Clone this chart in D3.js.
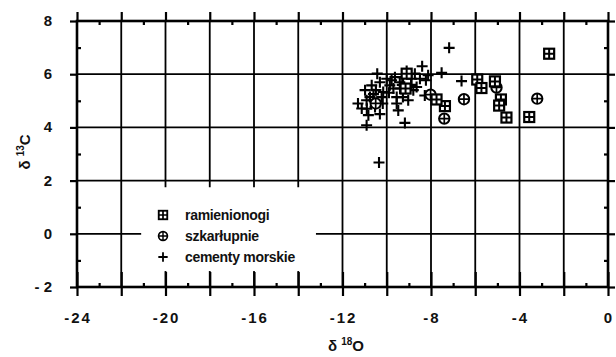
<!DOCTYPE html>
<html>
<head>
<meta charset="utf-8">
<script src="https://cdn.jsdelivr.net/npm/d3@7"></script>
<style>
  body { margin: 0; background: #fff; }
  text { font-family: "Liberation Sans", Arial, sans-serif; fill: #111; }
</style>
</head>
<body>
<div id="chart"></div>
<script>
// data (delta 18O, delta 13C)
const ramienionogiX = [-2.66, -5.91, -5.72, -5.11, -4.84, -4.92, -4.59, -3.56, -7.37, -7.75, -9.10, -9.15];
const ramienionogiY = [6.77, 5.80, 5.48, 5.73, 5.05, 4.82, 4.37, 4.39, 4.80, 5.05, 6.02, 5.46];

const szkarlupnieX = [-3.20, -6.51, -7.40, -8.02, -5.04, -10.50];
const szkarlupnieY = [5.08, 5.06, 4.33, 5.23, 5.50, 4.90];

const cementyX = [-7.18, -8.40, -7.52, -6.62, -8.13, -8.28, -9.18, -10.35, -10.91, -11.13,
  -10.83, -10.31, -9.48, -9.55, -9.03, -10.98, -10.68, -10.43, -10.31, -10.49,
  -10.76, -10.60, -10.23, -10.18, -10.91, -10.00, -9.78, -9.86, -9.63, -9.41,
  -9.26, -9.10, -8.88, -8.73, -8.65, -8.80, -9.40, -9.70, -8.50, -8.23,
  -9.55, -9.27, -10.16, -10.53, -9.90, -9.30, -8.90, -10.60, -11.30, -10.90];
const cementyY = [6.99, 6.30, 6.05, 5.74, 5.96, 5.20, 4.17, 2.68, 4.08, 4.71,
  4.46, 4.50, 4.64, 4.90, 5.02, 5.40, 5.58, 6.02, 5.70, 5.40,
  5.14, 5.02, 5.14, 4.90, 5.02, 5.83, 5.77, 5.58, 5.89, 5.70,
  5.89, 6.12, 5.83, 6.02, 5.52, 5.40, 5.46, 5.46, 5.83, 5.77,
  5.14, 5.14, 5.33, 4.77, 5.30, 5.60, 5.60, 5.25, 4.90, 4.70];

const xMajor = [-24, -20, -16, -12, -8, -4, 0];
const xGrid = d3.range(-24, 1, 2);
const yGrid = [-2, 0, 2, 4, 6, 8];
const legendLabels = ["ramienionogi", "szkarłupnie", "cementy morskie"];

const margin = { top: 21, right: 8, bottom: 70, left: 77 };
const width = 616 - margin.left - margin.right;
const height = 357 - margin.top - margin.bottom;

const svg = d3.select("#chart").append("svg")
    .attr("width", 616)
    .attr("height", 357);

const g = svg.append("g")
    .attr("transform", `translate(${margin.left},${margin.top})`);

const x = d3.scaleLinear().domain([-24, 0]).range([0, width]);
const y = d3.scaleLinear().domain([-2, 8]).range([height, 0]);

// grid
g.selectAll(".vgrid").data(xGrid).enter().append("line")
    .attr("x1", d => x(d)).attr("x2", d => x(d))
    .attr("y1", 0).attr("y2", height)
    .attr("stroke", "#000").attr("stroke-width", 1.8);
g.selectAll(".hgrid").data(yGrid).enter().append("line")
    .attr("x1", 0).attr("x2", width)
    .attr("y1", d => y(d)).attr("y2", d => y(d))
    .attr("stroke", "#000").attr("stroke-width", 1.8);

// blank area behind the legend
g.append("rect")
    .attr("x", x(-21.1)).attr("y", y(1.75))
    .attr("width", x(-13.2) - x(-21.1))
    .attr("height", y(-1.4) - y(1.75))
    .attr("fill", "#fff");

// frame
g.append("rect")
    .attr("width", width).attr("height", height)
    .attr("fill", "none").attr("stroke", "#000").attr("stroke-width", 2.6);

// axes
const xBottom = d3.axisBottom(x).tickValues(xGrid).tickSize(9).tickFormat("");
const xBottomIn = d3.axisTop(x).tickValues(xGrid).tickSize(15).tickFormat("");
const xMinorB = d3.axisTop(x).tickValues(d3.range(-23, 0, 2)).tickSize(4).tickFormat("");
const xTop = d3.axisTop(x).tickValues(xGrid).tickSize(9).tickFormat("");
const xMinorT = d3.axisBottom(x).tickValues(d3.range(-23, 0, 2)).tickSize(4).tickFormat("");
const yLeft = d3.axisLeft(y).tickValues(yGrid).tickSize(7).tickFormat("");
const yMinorL = d3.axisRight(y).tickValues(d3.range(-1, 8, 2)).tickSize(4).tickFormat("");
const yRight = d3.axisRight(y).tickValues(yGrid).tickSize(7).tickFormat("");
const yMinorR = d3.axisLeft(y).tickValues(d3.range(-1, 8, 2)).tickSize(4).tickFormat("");

const axes = [
  [xBottom, `translate(0,${height})`],
  [xBottomIn, `translate(0,${height})`],
  [xMinorB, `translate(0,${height})`],
  [xTop, "translate(0,0)"],
  [xMinorT, "translate(0,0)"],
  [yLeft, "translate(0,0)"],
  [yMinorL, "translate(0,0)"],
  [yRight, `translate(${width},0)`],
  [yMinorR, `translate(${width},0)`]
];
axes.forEach(([ax, tr]) => {
  const a = g.append("g").attr("transform", tr).call(ax);
  a.select(".domain").remove();
  a.selectAll("line").attr("stroke", "#000").attr("stroke-width", 2.2);
});

// tick labels
g.selectAll(".xlab").data(xMajor).enter().append("text")
    .attr("x", d => x(d) + 1)
    .attr("y", height + 36)
    .attr("text-anchor", "middle")
    .style("font-size", "15px").style("font-weight", "bold")
    .style("letter-spacing", "2px")
    .text(d => d < 0 ? "-" + Math.abs(d) : d);

g.selectAll(".ylab").data(yGrid).enter().append("text")
    .attr("x", -25)
    .attr("y", d => y(d) + 5)
    .attr("text-anchor", "end")
    .style("font-size", "15px").style("font-weight", "bold")
    .text(d => d < 0 ? "- " + Math.abs(d) : d);

// axis titles
const xt = svg.append("text")
    .attr("x", 346).attr("y", 351)
    .attr("text-anchor", "middle")
    .style("font-size", "15px").style("font-weight", "bold");
xt.append("tspan").text("δ ");
xt.append("tspan").attr("dy", -6).style("font-size", "10px").text("18");
xt.append("tspan").attr("dy", 6).text("O");

const yt = svg.append("text")
    .attr("transform", "translate(30,152) rotate(-90)")
    .attr("text-anchor", "middle")
    .style("font-size", "15px").style("font-weight", "bold");
yt.append("tspan").text("δ ");
yt.append("tspan").attr("dy", -6).style("font-size", "10px").text("13");
yt.append("tspan").attr("dy", 6).text("C");

// symbols
function squareSym(sel) {
  sel.append("rect").attr("x", -5).attr("y", -5).attr("width", 10).attr("height", 10)
      .attr("fill", "#fff").attr("stroke", "#000").attr("stroke-width", 2.2);
  sel.append("path").attr("d", "M-5,0H5M0,-5V5").attr("stroke", "#000").attr("stroke-width", 2);
}
function circleSym(sel) {
  sel.append("circle").attr("r", 5.2)
      .attr("fill", "#fff").attr("stroke", "#000").attr("stroke-width", 2);
  sel.append("path").attr("d", "M-5,0H5M0,-5V5").attr("stroke", "#000").attr("stroke-width", 1.7);
}
function plusSym(sel) {
  sel.append("path").attr("d", "M-5.5,0H5.5M0,-5.5V5.5").attr("stroke", "#000").attr("stroke-width", 2.1);
}

g.selectAll(".plus").data(cementyX).enter().append("g")
    .attr("transform", (d, i) => `translate(${x(d)},${y(cementyY[i])})`)
    .call(plusSym);
g.selectAll(".circ").data(szkarlupnieX).enter().append("g")
    .attr("transform", (d, i) => `translate(${x(d)},${y(szkarlupnieY[i])})`)
    .call(circleSym);
g.selectAll(".sq").data(ramienionogiX).enter().append("g")
    .attr("transform", (d, i) => `translate(${x(d)},${y(ramienionogiY[i])})`)
    .call(squareSym);

// legend
const legend = svg.append("g").attr("transform", "translate(163,215)");
const syms = [squareSym, circleSym, plusSym];
legendLabels.forEach((lab, i) => {
  const row = legend.append("g").attr("transform", `translate(0,${i * 21})`);
  row.append("g").attr("transform", "scale(0.85)").call(syms[i]);
  row.append("text")
      .attr("x", 22).attr("y", 5)
      .style("font-size", "14px")
      .style("font-weight", "bold")
      .style("letter-spacing", "-0.3px")
      .text(lab);
});
</script>
</body>
</html>
